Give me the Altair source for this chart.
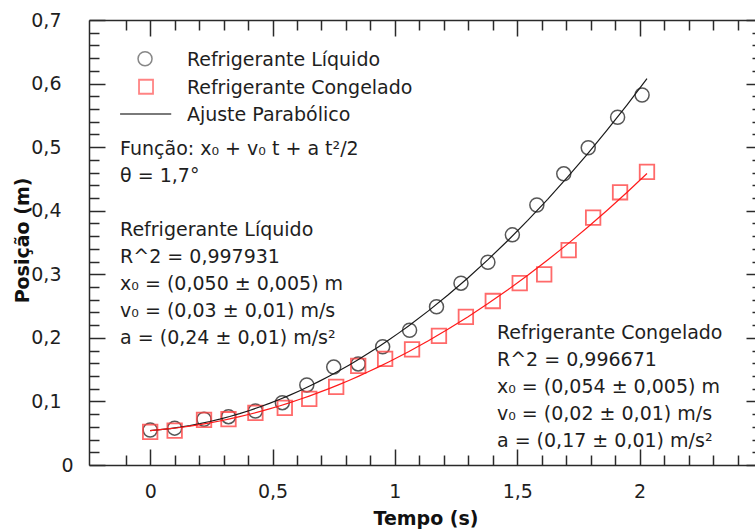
import altair as alt
import pandas as pd

# ---------------- data ----------------
t_liquido = [0.00, 0.10, 0.22, 0.32, 0.43, 0.54, 0.64, 0.75, 0.85, 0.95,
             1.06, 1.17, 1.27, 1.38, 1.48, 1.58, 1.69, 1.79, 1.91, 2.01]
pos_liquido = [0.055, 0.058, 0.072, 0.076, 0.085, 0.098, 0.126, 0.154, 0.159, 0.186,
               0.212, 0.249, 0.286, 0.319, 0.362, 0.409, 0.458, 0.499, 0.547, 0.582]

t_congelado = [0.00, 0.10, 0.22, 0.32, 0.43, 0.55, 0.65, 0.76, 0.85, 0.96,
               1.07, 1.18, 1.29, 1.40, 1.51, 1.61, 1.71, 1.81, 1.92, 2.03]
pos_congelado = [0.052, 0.054, 0.071, 0.072, 0.082, 0.090, 0.104, 0.123, 0.156, 0.167,
                 0.182, 0.203, 0.233, 0.258, 0.286, 0.300, 0.338, 0.389, 0.429, 0.461]

x_major = [0, 0.5, 1, 1.5, 2]
x_ticks = [-0.1, 0, 0.1, 0.2, 0.3, 0.4, 0.5, 0.6, 0.7, 0.8, 0.9, 1, 1.1, 1.2, 1.3,
           1.4, 1.5, 1.6, 1.7, 1.8, 1.9, 2, 2.1, 2.2, 2.3, 2.4, 2.5]
y_major = [0, 0.1, 0.2, 0.3, 0.4, 0.5, 0.6, 0.7]
y_ticks = [0, 0.02, 0.04, 0.06, 0.08, 0.1, 0.12, 0.14, 0.16, 0.18, 0.2, 0.22, 0.24,
           0.26, 0.28, 0.3, 0.32, 0.34, 0.36, 0.38, 0.4, 0.42, 0.44, 0.46, 0.48, 0.5,
           0.52, 0.54, 0.56, 0.58, 0.6, 0.62, 0.64, 0.66, 0.68, 0.7]

legend_labels = ["Refrigerante Líquido", "Refrigerante Congelado", "Ajuste Parabólico"]
texto_funcao = [
    "Função: x₀ + v₀ t + a t²/2",
    "θ = 1,7°",
]
texto_liquido = [
    "Refrigerante Líquido",
    "R^2 = 0,997931",
    "x₀ = (0,050 ± 0,005) m",
    "v₀ = (0,03 ± 0,01) m/s",
    "a = (0,24 ± 0,01) m/s²",
]
texto_congelado = [
    "Refrigerante Congelado",
    "R^2 = 0,996671",
    "x₀ = (0,054 ± 0,005) m",
    "v₀ = (0,02 ± 0,01) m/s",
    "a = (0,17 ± 0,01) m/s²",
]

df_liq = pd.DataFrame({"t": t_liquido, "v": pos_liquido})
df_cong = pd.DataFrame({"t": t_congelado, "v": pos_congelado})
one = pd.DataFrame({"i": [0]})

# ---------------- layout / styling ----------------
W, H = 666, 445
XR = 673
FONT = "DejaVu Sans"
INK = "#1e1e1e"
AX = "#2a2a2a"

XS = alt.Scale(domain=[-0.25, 2.5], range=[0, XR], nice=False, zero=False)
YS = alt.Scale(domain=[0, 0.7], nice=False, zero=False)

tick_x = {"condition": {"test": "abs(datum.value*2 - round(datum.value*2)) < 0.001", "value": 16}, "value": 10}
tick_y = {"condition": {"test": "abs(datum.value*10 - round(datum.value*10)) < 0.001", "value": 16}, "value": 10}
comma = "replace(datum.label, '.', ',')"

ax_x_main = alt.Axis(orient="bottom", values=x_major, format=".1~f", labelExpr=comma,
                     ticks=False, tickSize=0, labelPadding=17, labelFlush=False,
                     domain=True, grid=False, title="Tempo (s)",
                     titleY=53, titleBaseline="middle")
ax_y_main = alt.Axis(orient="left", values=y_major, format=".1~f", labelExpr=comma,
                     ticks=False, tickSize=0, labelPadding=28,
                     labelAlign={"condition": {"test": "datum.value == 0", "value": "left"}, "value": "right"},
                     labelBaseline="middle",
                     domain=True, grid=False, title="Posição (m)",
                     titleX=-67, titleY=220, titleBaseline="middle")

ax_x_bot_ticks = alt.Axis(orient="top", offset=-H, values=x_ticks, labels=False,
                          domain=False, grid=False, tickSize=tick_x, title="")
ax_x_top_ticks = alt.Axis(orient="bottom", offset=-H, values=x_ticks, labels=False,
                          domain=True, grid=False, tickSize=tick_x, title="")
ax_y_left_ticks = alt.Axis(orient="right", offset=-W, values=y_ticks, labels=False,
                           domain=False, grid=False, tickSize=tick_y, title="")
ax_y_right_ticks = alt.Axis(orient="left", offset=-XR, values=y_ticks, labels=False,
                            domain=True, grid=False, tickSize=tick_y, title="")

circles = alt.Chart(df_liq).mark_point(
    shape="circle", filled=False, size=196, strokeWidth=1.5, color="#3a3a3a", opacity=0.85
).encode(
    x=alt.X("t:Q", scale=XS, axis=ax_x_main),
    y=alt.Y("v:Q", scale=YS, axis=ax_y_main),
)

squares = alt.Chart(df_cong).mark_point(
    shape="square", filled=False, size=210, strokeWidth=1.8, color="#ff4545", opacity=0.8
).encode(
    x=alt.X("t:Q", scale=XS, axis=ax_x_bot_ticks),
    y=alt.Y("v:Q", scale=YS, axis=ax_y_left_ticks),
)

fit_liq = alt.Chart(df_liq).transform_regression(
    "t", "v", method="poly", order=2, extent=[0, 2.03]
).mark_line(color="#1a1a1a", strokeWidth=1.2).encode(
    x=alt.X("t:Q", scale=XS, axis=ax_x_top_ticks),
    y=alt.Y("v:Q", scale=YS, axis=ax_y_right_ticks),
)

fit_cong = alt.Chart(df_cong).transform_regression(
    "t", "v", method="poly", order=2, extent=[0, 2.03]
).mark_line(color="#ff1a1a", strokeWidth=1.2).encode(
    x=alt.X("t:Q", scale=XS, axis=None),
    y=alt.Y("v:Q", scale=YS, axis=None),
)

# legend (drawn by hand, placed in data units)
leg_circle = alt.Chart(one).mark_point(
    shape="circle", filled=False, size=196, strokeWidth=1.5, color="#555555"
).encode(x=alt.datum(-0.021, scale=XS, axis=None), y=alt.datum(0.639, scale=YS, axis=None))
leg_square = alt.Chart(one).mark_point(
    shape="square", filled=False, size=196, strokeWidth=1.8, color="#ff5050"
).encode(x=alt.datum(-0.017, scale=XS, axis=None), y=alt.datum(0.595, scale=YS, axis=None))
leg_line = alt.Chart(one).mark_rule(color="#7a7a7a", strokeWidth=2).encode(
    x=alt.datum(-0.123, scale=XS, axis=None), x2=alt.datum(0.086),
    y=alt.datum(0.552, scale=YS, axis=None))
leg_text = alt.Chart(one).mark_text(
    text=legend_labels, align="left", baseline="top", lineHeight=27.5,
    font=FONT, fontSize=19, color=INK
).encode(x=alt.datum(0.150, scale=XS, axis=None), y=alt.datum(0.651, scale=YS, axis=None))

txt_funcao = alt.Chart(one).mark_text(
    text=texto_funcao, align="left", baseline="top", lineHeight=27,
    font=FONT, fontSize=19, color=INK
).encode(x=alt.datum(-0.123, scale=XS, axis=None), y=alt.datum(0.511, scale=YS, axis=None))

txt_liq = alt.Chart(one).mark_text(
    text=texto_liquido, align="left", baseline="top", lineHeight=27,
    font=FONT, fontSize=19, color=INK
).encode(x=alt.datum(-0.123, scale=XS, axis=None), y=alt.datum(0.3834, scale=YS, axis=None))

txt_cong = alt.Chart(one).mark_text(
    text=texto_congelado, align="left", baseline="top", lineHeight=27,
    font=FONT, fontSize=19, color=INK
).encode(x=alt.datum(1.417, scale=XS, axis=None), y=alt.datum(0.2218, scale=YS, axis=None))

chart = alt.layer(
    circles, squares, fit_liq, fit_cong,
    leg_circle, leg_square, leg_line, leg_text, txt_funcao, txt_liq, txt_cong,
).resolve_axis(
    x="independent", y="independent"
).properties(
    width=W, height=H,
    autosize=alt.AutoSizeParams(type="none"),
    padding={"left": 89, "top": 20, "right": 0, "bottom": 66},
    background="white",
).configure_view(
    strokeWidth=0
).configure_axis(
    labelFont=FONT, labelFontSize=19, labelColor=INK,
    titleFont=FONT, titleFontSize=19, titleFontWeight="bold", titleColor="#111111",
    tickColor=AX, tickWidth=1.5, domainColor=AX, domainWidth=1.5,
)

chart.save("out.html", embed_options={"renderer": "svg", "actions": False})
